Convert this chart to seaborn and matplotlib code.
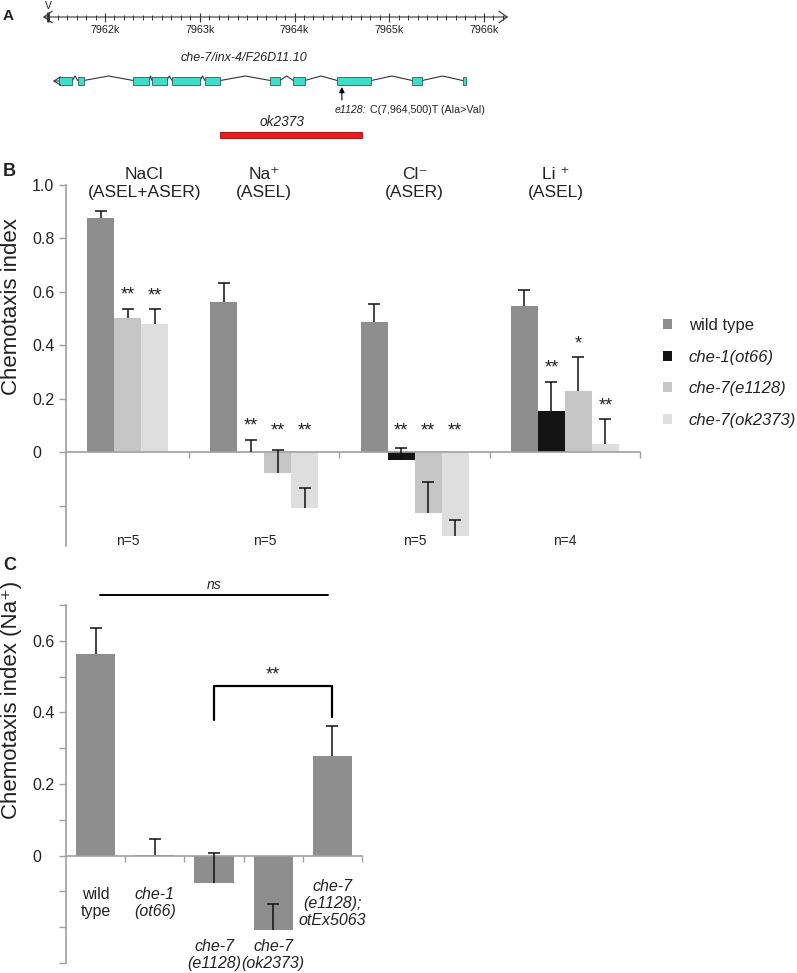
import numpy as np
import pandas as pd
import matplotlib
matplotlib.use("Agg")
import matplotlib.pyplot as plt
from matplotlib.patches import Rectangle, Patch
from matplotlib import font_manager
import seaborn as sns

# ---- panel A: che-7 gene model on chr V (kb) ----
ruler_major_kb = [7962, 7963, 7964, 7965, 7966]
exon_starts = [7961.518, 7961.712, 7962.299, 7962.496, 7962.707, 7963.055,
               7963.745, 7963.987, 7964.452, 7965.243, 7965.775]
exon_ends = [7961.655, 7961.775, 7962.464, 7962.651, 7963.003, 7963.217,
             7963.847, 7964.108, 7964.811, 7965.349, 7965.810]
e1128_pos = 7964.500
ok2373_span = [7963.214, 7964.716]

# ---- panel B: chemotaxis to salts ----
ion_labels = ["NaCl\n(ASEL+ASER)", "Na\u207a\n(ASEL)", "Cl\u207b\n(ASER)", "Li \u207a\n(ASEL)"]
strains = ["wild type", "che-1(ot66)", "che-7(e1128)", "che-7(ok2373)"]
strain_colors = ["#8e8e8e", "#141414", "#c6c6c6", "#dedede"]
ci_wt = [0.877, 0.561, 0.488, 0.547]
ci_che1 = [np.nan, 0.003, -0.030, 0.156]
ci_e1128 = [0.504, -0.077, -0.228, 0.228]
ci_ok2373 = [0.481, -0.207, -0.313, 0.030]
sem_wt = [0.025, 0.073, 0.066, 0.060]
sem_che1 = [np.nan, 0.044, 0.045, 0.109]
sem_e1128 = [0.034, 0.087, 0.117, 0.127]
sem_ok2373 = [0.054, 0.073, 0.061, 0.094]
sig_wt = ["", "", "", ""]
sig_che1 = ["", "**", "**", "**"]
sig_e1128 = ["**", "**", "**", "*"]
sig_ok2373 = ["**", "**", "**", "**"]
n_animals = [5, 5, 5, 4]

# ---- panel C: Na+ chemotaxis and rescue ----
genotypes_c = ["wild\ntype", "che-1\n(ot66)", "che-7\n(e1128)", "che-7\n(ok2373)",
               "che-7\n(e1128);\notEx5063"]
ci_na = [0.564, 0.002, -0.076, -0.208, 0.277]
sem_na = [0.073, 0.045, 0.084, 0.073, 0.084]

sns.set_theme(style="ticks")
plt.rcParams["font.family"] = ["Liberation Sans", "DejaVu Sans"]
plt.rcParams["text.color"] = "#222222"

try:
    font_manager.findfont("Liberation Sans Narrow", fallback_to_default=False)
    narrow = ["Liberation Sans Narrow", "DejaVu Sans"]
    nscale = 1.0
except ValueError:
    narrow = ["Liberation Sans", "DejaVu Sans"]
    nscale = 0.82

W, H = 797, 973
fig = plt.figure(figsize=(W / 100, H / 100), dpi=100)


def add_px_axes(left, top, right, bottom):
    return fig.add_axes([left / W, 1 - bottom / H, (right - left) / W, (bottom - top) / H])


# ================= A =================
axA = add_px_axes(42, 0, 512, 145)
px_per_kb = 94.75
axA.set_xlim(7962 - 63 / px_per_kb, 7962 + 407 / px_per_kb)
axA.set_ylim(145, 0)
axA.axis("off")

axA.annotate("", xy=(7961.345, 17), xytext=(7966.255, 17),
             arrowprops=dict(arrowstyle="<->,head_length=0.5,head_width=0.35",
                             lw=0.8, color="#333333", shrinkA=0, shrinkB=0))
minor_kb = np.arange(7961.5, 7966.21, 0.1)
axA.vlines(minor_kb, 15, 19.5, color="#333333", lw=0.7)
axA.vlines(ruler_major_kb, 12.5, 21.5, color="#333333", lw=0.8)
axA.vlines([7961.4], 12, 22, color="#333333", lw=2.0)
axA.text(7961.4, 6, "V", ha="center", va="center", fontsize=9 * nscale, family=narrow)
for k in ruler_major_kb:
    axA.text(k, 30, f"{k}k", ha="center", va="center", fontsize=9.5 * nscale, family=narrow)

axA.text(7963.47, 58, "che-7/inx-4/F26D11.10", ha="center", va="center",
         fontsize=11 * nscale, style="italic", family=narrow)

for i in range(len(exon_starts) - 1):
    mid = (exon_ends[i] + exon_starts[i + 1]) / 2
    axA.plot([exon_ends[i], mid, exon_starts[i + 1]], [80.5, 76, 80.5], color="#333333", lw=0.8)
for s, e in zip(exon_starts, exon_ends):
    axA.add_patch(Rectangle((s, 77), e - s, 8, fc="#3fdcca", ec="#2f5f5a", lw=0.6, zorder=3))
axA.annotate("", xy=(7961.45, 81), xytext=(exon_starts[0], 81),
             arrowprops=dict(arrowstyle="->,head_length=0.4,head_width=0.25", lw=0.8,
                             color="#333333", shrinkA=0, shrinkB=0))

axA.annotate("", xy=(e1128_pos, 87), xytext=(e1128_pos, 100),
             arrowprops=dict(arrowstyle="-|>", lw=0.8, color="black", mutation_scale=8,
                             shrinkA=0, shrinkB=0))
t1 = axA.text(e1128_pos - 0.073, 110, "e1128:", style="italic", ha="left", va="center",
              fontsize=9.3 * nscale, family=narrow)
axA.annotate(" C(7,964,500)T (Ala>Val)", xy=(1, 0.5), xycoords=t1, ha="left", va="center",
             fontsize=9.3 * nscale, family=narrow)

axA.text(np.mean(ok2373_span) - 0.1, 122, "ok2373", ha="center", va="center",
         style="italic", fontsize=12 * nscale, family=narrow)
axA.add_patch(Rectangle((ok2373_span[0], 131.5), ok2373_span[1] - ok2373_span[0], 6.5,
                        fc="#ee1c1c", ec="#a00000", lw=0.6))

# ================= B =================
axB = add_px_axes(66, 185, 640, 546)
group_edges = np.array([-0.32, 0.5, 1.5, 2.5, 3.5])
group_centers = (group_edges[:-1] + group_edges[1:]) / 2
title_shift = [0.11, 0.0, 0.0, -0.06]
bar_w = 0.18

ci_all = [ci_wt, ci_che1, ci_e1128, ci_ok2373]
sem_all = [sem_wt, sem_che1, sem_e1128, sem_ok2373]
sig_all = [sig_wt, sig_che1, sig_e1128, sig_ok2373]
rows = []
for g in range(len(ion_labels)):
    present = [s for s in range(len(strains)) if not np.isnan(ci_all[s][g])]
    offsets = (np.arange(len(present)) - (len(present) - 1) / 2) * bar_w
    for off, s in zip(offsets, present):
        rows.append(dict(x=round(group_centers[g] + off, 4), ci=ci_all[s][g],
                         sem=sem_all[s][g], sig=sig_all[s][g], strain=strains[s]))
dfB = pd.DataFrame(rows)

sns.barplot(data=dfB, x="x", y="ci", hue="strain", hue_order=strains,
            palette=dict(zip(strains, strain_colors)), native_scale=True, dodge=False,
            width=1.0, errorbar=None, saturation=1, legend=False, linewidth=0, ax=axB)
eb = axB.errorbar(dfB["x"], dfB["ci"], yerr=[np.zeros(len(dfB)), dfB["sem"]], fmt="none",
                  ecolor="#111111", elinewidth=1.1, capsize=4.5, capthick=1.1, zorder=4)
eb[1][0].set_visible(False)
for _, r in dfB.iterrows():
    if r["sig"]:
        top = max(r["ci"] + r["sem"], 0.03)
        axB.text(r["x"], top + 0.05, r["sig"], ha="center", va="center", fontsize=13)

for g in range(len(ion_labels)):
    axB.text(group_centers[g] + title_shift[g], 1.005, ion_labels[g], ha="center", va="center",
             fontsize=12.5, linespacing=1.25)
    axB.text(group_centers[g], -0.33, f"n={n_animals[g]}", ha="center", va="center",
             fontsize=10)

axB.set_xlim(group_edges[0], group_edges[-1])
axB.set_ylim(-0.35, 1.0)
axB.set_xlabel("")
axB.set_ylabel("")
axB.set_xticks(group_edges[1:])
axB.set_xticklabels([])
axB.set_yticks([-0.2, 0, 0.2, 0.4, 0.6, 0.8, 1.0])
axB.set_yticklabels(["", "0", "0.2", "0.4", "0.6", "0.8", "1.0"])

# ================= C =================
axC = add_px_axes(66, 605, 362, 963)
dfC = pd.DataFrame(dict(genotype=genotypes_c, ci=ci_na, sem=sem_na))
sns.barplot(data=dfC, x="genotype", y="ci", order=genotypes_c, color="#8e8e8e",
            saturation=1, width=0.66, errorbar=None, linewidth=0, ax=axC)
xc = np.arange(len(genotypes_c))
ebc = axC.errorbar(xc, dfC["ci"], yerr=[np.zeros(len(dfC)), dfC["sem"]], fmt="none",
                   ecolor="#111111", elinewidth=1.1, capsize=4.5, capthick=1.1, zorder=4)
ebc[1][0].set_visible(False)

for i, lab in enumerate(genotypes_c):
    y = -0.277 if ci_na[i] < -0.05 else -0.133
    axC.text(i, y, lab, ha="center", va="center", fontsize=11.5, linespacing=1.15,
             style="normal" if i == 0 else "italic")

axC.plot([0.07, 3.93], [0.727, 0.727], color="black", lw=1.4, clip_on=False)
axC.text(2, 0.757, "ns", ha="center", va="center", style="italic", fontsize=10)
axC.plot([2, 2, 4, 4], [0.38, 0.475, 0.475, 0.388], color="black", lw=1.6, clip_on=False)
axC.text(3, 0.504, "**", ha="center", va="center", fontsize=13)

axC.set_xlim(-0.5, len(genotypes_c) - 0.5)
axC.set_ylim(-0.3, 0.7)
axC.set_xlabel("")
axC.set_ylabel("")
axC.set_xticks(np.arange(len(genotypes_c)) + 0.5)
axC.set_xticklabels([])
c_ticks = np.round(np.arange(-0.3, 0.71, 0.1), 1)
axC.set_yticks(c_ticks)
axC.set_yticklabels(["0" if t == 0 else (f"{t:.1f}" if t in (0.2, 0.4, 0.6) else "") for t in c_ticks])

# shared axis styling for B and C
for ax in (axB, axC):
    sns.despine(ax=ax, top=True, right=True)
    for side in ("left", "bottom"):
        ax.spines[side].set_color("#a0a0a0")
        ax.spines[side].set_linewidth(1.2)
    ax.spines["bottom"].set_position(("data", 0))
    ax.tick_params(axis="y", left=True, length=5, width=1, color="#a0a0a0",
                   pad=19.5, labelsize=11.5, labelcolor="#222222")
    ax.tick_params(axis="x", bottom=True, length=4, width=1, color="#a0a0a0", direction="out")
    plt.setp(ax.get_yticklabels(), ha="left")

# legend for B
handles = [Patch(fc=c, ec="none") for c in strain_colors]
leg = fig.legend(handles, strains, loc="upper left", bbox_to_anchor=(663 / W, 1 - 318 / H),
                 frameon=False, borderpad=0, borderaxespad=0, handlelength=0.55,
                 handleheight=0.55, handletextpad=1.0, labelspacing=1.0, fontsize=12)
for t in leg.get_texts()[1:]:
    t.set_style("italic")

# axis titles and panel letters
fig.text(12 / W, 1 - 307 / H, "Chemotaxis index", rotation=90, ha="center", va="center", fontsize=16)
fig.text(12 / W, 1 - 700 / H, "Chemotaxis index (Na\u207a)", rotation=90, ha="center", va="center", fontsize=16)
fig.text(3 / W, 1 - 16 / H, "A", ha="left", va="center", fontsize=11, weight="bold", family=narrow)
fig.text(3 / W, 1 - 171 / H, "B", ha="left", va="center", fontsize=13, weight="bold")
fig.text(3 / W, 1 - 566 / H, "C", ha="left", va="center", fontsize=13, weight="bold")

fig.savefig("out.png", dpi=100)
